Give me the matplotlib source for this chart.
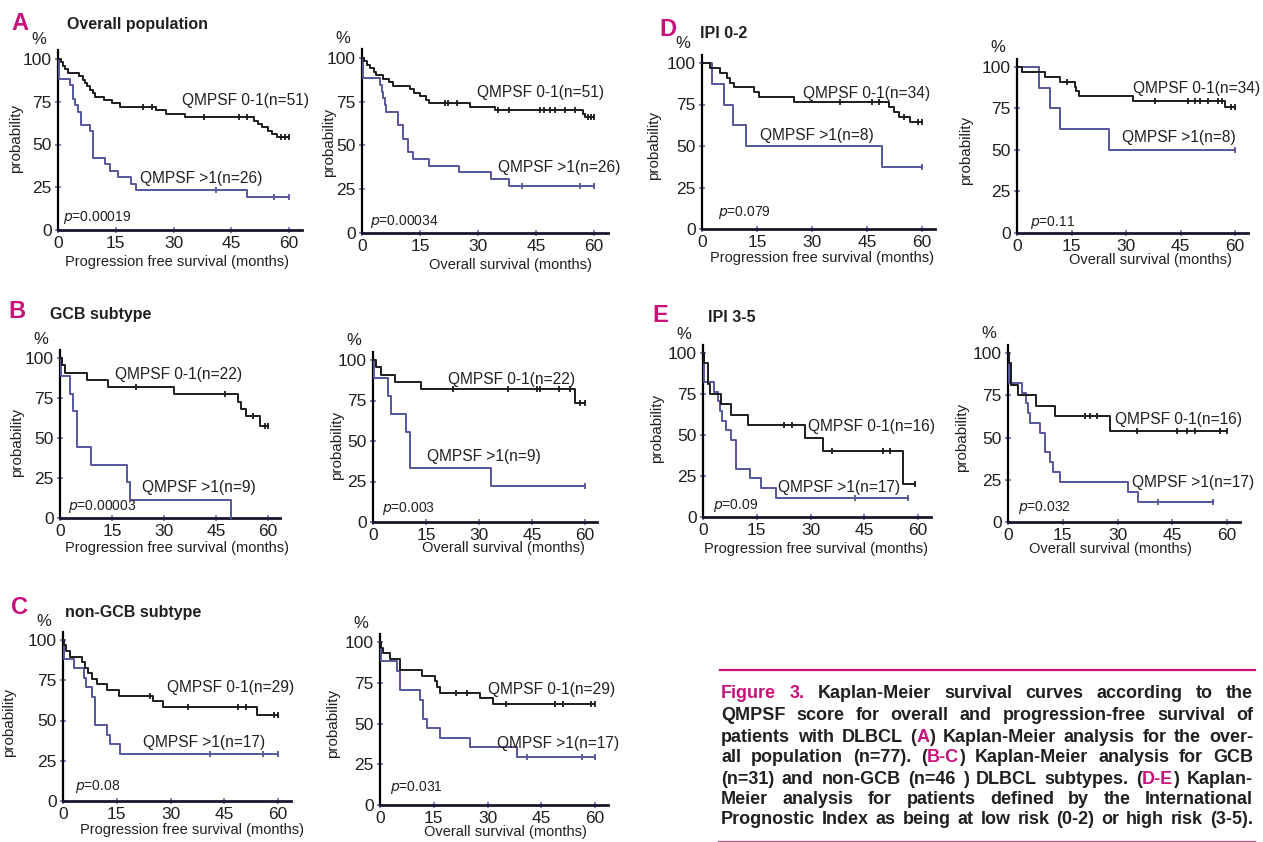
import re
import matplotlib
matplotlib.use('Agg')
import matplotlib.pyplot as plt
import numpy as np

plt.rcParams['font.family'] = ['Liberation Sans', 'DejaVu Sans']

# ---------------- data: event times (months), survival (%) after each event, censor times
# A  overall population
a_pfs_lo_t = [0.8, 1.3, 1.8, 2.5, 5.5, 6.5, 7.0, 7.5, 8.2, 9.0, 9.5, 12, 14, 16, 25.5, 28, 33, 51, 52, 53, 54.5, 55.5, 57]
a_pfs_lo_s = [98, 96, 94, 92, 90, 88, 86, 84, 82, 80, 78, 76, 74, 72, 70, 68, 66, 64, 62, 60, 58, 56, 54.5]
a_pfs_lo_c = [22, 24.5, 38, 47, 49, 58, 59, 60]
a_pfs_hi_t = [0.3, 3.0, 3.9, 4.5, 5.2, 6.1, 8.2, 9.1, 12.1, 13.4, 15.6, 19, 20.3, 49]
a_pfs_hi_s = [88.5, 84.6, 76.9, 73.1, 69.2, 61.5, 57.7, 42.3, 38.5, 34.6, 30.8, 26.9, 23.1, 19.2]
a_pfs_hi_c = [41, 56, 60]
a_os_lo_t = [0.5, 1.2, 2, 3, 3.5, 5.5, 7, 8, 12.5, 13.5, 15, 16.5, 17.2, 28, 34.5, 57.2, 57.8]
a_os_lo_s = [98, 96, 94, 92, 90, 88, 86, 84, 82, 80, 78, 76, 74, 72, 70, 68, 66.5]
a_os_lo_c = [21.5, 22.3, 24.5, 35.2, 38, 46, 47, 48.5, 50, 52.5, 55, 58.5, 59.3, 60]
a_os_hi_t = [0.3, 4.7, 5.1, 5.5, 5.9, 6.2, 9.4, 10.7, 12, 13.3, 17.2, 25, 33.3, 38]
a_os_hi_s = [88.5, 84.6, 80.8, 76.9, 73.1, 69.2, 61.5, 53.8, 46.2, 42.3, 38.5, 34.6, 30.8, 26.9]
a_os_hi_c = [41.3, 56.4, 60]

# B  GCB subtype
b_pfs_lo_t = [0.5, 1.4, 7.9, 13.9, 33, 51.3, 52.2, 53.7, 57.6]
b_pfs_lo_s = [95.5, 90.9, 86.4, 81.8, 77.3, 72.7, 68.2, 63.6, 57.3]
b_pfs_lo_c = [22, 47.5, 55.8, 59, 60]
b_pfs_hi_t = [0.3, 3.0, 3.8, 5.0, 8.8, 19.2, 20.2, 49.4]
b_pfs_hi_s = [88.9, 77.8, 66.7, 44.4, 33.3, 22.2, 11.1, 0]
b_pfs_hi_c = []
b_os_lo_t = [0.9, 2.4, 6.1, 13.7, 57.2]
b_os_lo_s = [95.5, 90.9, 86.4, 81.8, 73.6]
b_os_lo_c = [22.7, 38.3, 46.3, 47.3, 52.5, 55.8, 58.6, 60]
b_os_hi_t = [0.3, 4.3, 5.2, 9.3, 10.4, 33.3]
b_os_hi_s = [88.9, 77.8, 66.7, 55.6, 33.3, 22.2]
b_os_hi_c = [60]

# C  non-GCB subtype
c_pfs_lo_t = [0.4, 0.9, 2.0, 5.3, 6.2, 7.1, 8.1, 9.5, 12.2, 15.5, 25.2, 28, 54]
c_pfs_lo_s = [96.6, 93.1, 89.7, 86.2, 82.8, 79.3, 75.9, 72.4, 69.0, 65.5, 62.1, 58.6, 53.7]
c_pfs_lo_c = [24.3, 35, 48.9, 51.2, 59, 60]
c_pfs_hi_t = [0.2, 3.0, 5.8, 6.5, 8.1, 9.0, 12.2, 13.2, 16.0]
c_pfs_hi_s = [88.2, 82.4, 76.5, 70.6, 64.7, 47.1, 41.2, 35.3, 29.4]
c_pfs_hi_c = [41, 55.9, 60]
c_os_lo_t = [0.3, 0.9, 2.8, 5.6, 11.6, 15.3, 15.9, 16.7, 27.9, 31.6]
c_os_lo_s = [96.6, 93.1, 89.7, 82.8, 79.3, 75.9, 72.4, 69.0, 65.5, 62.1]
c_os_lo_c = [21.2, 24.2, 35.2, 48.8, 51.2, 59, 60]
c_os_hi_t = [0.2, 4.7, 5.6, 11.2, 12.1, 13.0, 16.7, 25.1, 38.1]
c_os_hi_s = [88.2, 82.4, 70.6, 64.7, 52.9, 47.1, 41.2, 35.3, 29.4]
c_os_hi_c = [41.1, 56.3, 60]

# D  IPI 0-2
d_pfs_lo_t = [2.3, 5.0, 6.8, 7.7, 8.6, 14.1, 15.5, 25.0, 50.9, 52.3, 53.6, 56.8]
d_pfs_lo_s = [97.1, 94.1, 91.2, 88.2, 85.3, 82.4, 79.4, 76.5, 73.5, 70.6, 67.6, 64.7]
d_pfs_lo_c = [37.7, 46.4, 48.2, 55, 59, 60]
d_pfs_hi_t = [2.7, 5.9, 8.5, 12.1, 49.1]
d_pfs_hi_s = [87.5, 75, 62.5, 50, 37.5]
d_pfs_hi_c = [60]
d_os_lo_t = [1.4, 7.8, 11.9, 16.0, 16.3, 17.0, 31.9, 57.2]
d_os_lo_s = [97.1, 94.1, 91.2, 88.2, 85.3, 82.4, 79.4, 76.0]
d_os_lo_c = [13.7, 38, 47.2, 49, 50.5, 52.7, 55.4, 56.3, 59, 60]
d_os_hi_t = [6.0, 9.0, 11.9, 25.2]
d_os_hi_s = [87.5, 75, 62.5, 50]
d_os_hi_c = [60]

# E  IPI 3-5
e_pfs_lo_t = [0.3, 1.4, 2.0, 5.1, 7.9, 12.6, 28.4, 33.5, 55.8]
e_pfs_lo_s = [93.8, 81.3, 75.0, 68.8, 62.5, 56.3, 48.2, 40.2, 20.1]
e_pfs_lo_c = [22.5, 24.7, 36, 50.2, 52.3, 59.3]
e_pfs_hi_t = [0.2, 3.0, 4.2, 4.8, 5.4, 6.3, 7.9, 9.1, 13.0, 16.3, 20.5]
e_pfs_hi_s = [82.4, 76.5, 70.6, 64.7, 58.8, 52.9, 47.1, 29.4, 23.5, 17.6, 11.8]
e_pfs_hi_c = [42.3, 57.2]
e_os_lo_t = [0.3, 0.9, 2.7, 7.8, 12.8, 27.9]
e_os_lo_s = [93.8, 81.3, 75.0, 68.8, 62.5, 53.6]
e_os_lo_c = [21, 22.4, 24.3, 35.3, 46.3, 49, 51.3, 58.2, 60]
e_os_hi_t = [0.3, 3.9, 5.0, 5.5, 6.0, 8.7, 10.1, 11.4, 12.4, 14.2, 33.0, 35.7]
e_os_hi_s = [82.4, 76.5, 70.6, 64.7, 58.8, 52.9, 41.2, 35.3, 29.4, 23.5, 17.6, 11.8]
e_os_hi_c = [41, 56.3]

n_lo = [51, 51, 22, 22, 29, 29, 34, 34, 16, 16]
n_hi = [26, 26, 9, 9, 17, 17, 8, 8, 17, 17]
p_values = ['0.00019', '0.00034', '0.00003', '0.003', '0.08', '0.031', '0.079', '0.11', '0.09', '0.032']
x_titles = ['Progression free survival (months)', 'Overall survival (months)'] * 5
panel_letters = ['A', 'B', 'C', 'D', 'E']
panel_titles = ['Overall population', 'GCB subtype', 'non-GCB subtype', 'IPI 0-2', 'IPI 3-5']
x_ticks = [0, 15, 30, 45, 60]
y_ticks = [0, 25, 50, 75, 100]

curves = [
    ((a_pfs_lo_t, a_pfs_lo_s, a_pfs_lo_c), (a_pfs_hi_t, a_pfs_hi_s, a_pfs_hi_c)),
    ((a_os_lo_t, a_os_lo_s, a_os_lo_c), (a_os_hi_t, a_os_hi_s, a_os_hi_c)),
    ((b_pfs_lo_t, b_pfs_lo_s, b_pfs_lo_c), (b_pfs_hi_t, b_pfs_hi_s, b_pfs_hi_c)),
    ((b_os_lo_t, b_os_lo_s, b_os_lo_c), (b_os_hi_t, b_os_hi_s, b_os_hi_c)),
    ((c_pfs_lo_t, c_pfs_lo_s, c_pfs_lo_c), (c_pfs_hi_t, c_pfs_hi_s, c_pfs_hi_c)),
    ((c_os_lo_t, c_os_lo_s, c_os_lo_c), (c_os_hi_t, c_os_hi_s, c_os_hi_c)),
    ((d_pfs_lo_t, d_pfs_lo_s, d_pfs_lo_c), (d_pfs_hi_t, d_pfs_hi_s, d_pfs_hi_c)),
    ((d_os_lo_t, d_os_lo_s, d_os_lo_c), (d_os_hi_t, d_os_hi_s, d_os_hi_c)),
    ((e_pfs_lo_t, e_pfs_lo_s, e_pfs_lo_c), (e_pfs_hi_t, e_pfs_hi_s, e_pfs_hi_c)),
    ((e_os_lo_t, e_os_lo_s, e_os_lo_c), (e_os_hi_t, e_os_hi_s, e_os_hi_c)),
]

caption = [
    '{Figure} {3.} Kaplan-Meier survival curves according to the',
    'QMPSF score for overall and progression-free survival of',
    'patients with DLBCL ({A}) Kaplan-Meier analysis for the over-',
    'all population (n=77). ({B-C}) Kaplan-Meier analysis for GCB',
    '(n=31) and non-GCB (n=46 ) DLBCL subtypes. ({D-E}) Kaplan-',
    'Meier analysis for patients defined by the International',
    'Prognostic Index as being at low risk (0-2) or high risk (3-5).',
]

# ---------------- layout (pixels in the 1263x842 figure)
W, H = 1263, 842
# x of t=0, x of t=60, y of 0 %, y of 100 %
ax_px = [(58, 289, 230, 59), (362, 594, 233, 58), (60, 268, 518, 358), (373, 585, 522, 360),
         (63, 278, 801, 640), (380, 595, 805, 642), (702, 922, 229, 63), (1017, 1235, 233, 67),
         (703, 918, 517, 353), (1008, 1227, 522, 353)]
lab_lo = [(32.2, 76), (29.7, 80), (15.9, 89.4), (21.2, 87.7), (29, 70.8), (30.2, 70.6),
          (27.5, 81.9), (32.0, 87.3), (29.3, 54.9), (29.3, 60.4)]
lab_hi = [(21.3, 30.4), (35.2, 37.7), (23.6, 18.8), (15.3, 40.7), (22.3, 36.6), (32.7, 38),
          (15.8, 56.6), (28.9, 57.8), (21, 17.7), (34, 23.1)]
p_pos = [(1.3, 7.6), (2.1, 6.3), (2.3, 6.9), (2.5, 8.6), (3.4, 8.7), (2.8, 11),
         (4.4, 10.2), (3.6, 6.6), (2.8, 7.3), (2.7, 8.3)]
xlab_pos = [(30.9, 32), (38.5, 32), (33.7, 30), (36.8, 26), (36, 29), (35, 27),
            (32.7, 29), (36.6, 27), (31.6, 32), (28.2, 27)]
ylab_pos = [(42, 53.8), (33, 52), (43, 47.5), (36, 47.5), (54, 49), (47, 50),
            (48, 50.6), (51, 50), (46, 54), (46, 50)]
letter_px = [(20, 23), (17, 312), (19, 608), (668, 30), (660, 315)]
title_px = [(67, 24), (50, 315), (65, 613), (700, 33), (708, 318)]

BLACK = '#1c1c1c'
BLUE = '#56569c'
MAGENTA = '#c8117a'
TXT = '#231f20'
XMAX, YMAX = 63.5, 105

fig = plt.figure(figsize=(W / 100, H / 100), dpi=100)


def draw_km(ax, t, s, c, color):
    end = max([t[-1]] + list(c))
    x = [0] + list(t) + [end]
    y = [100] + list(s) + [s[-1]]
    ax.step(x, y, where='post', color=color, lw=1.4, clip_on=False, zorder=3)
    if c:
        idx = np.searchsorted(t, c, side='right')
        cy = [100 if i == 0 else s[i - 1] for i in idx]
        ax.plot(c, cy, ls='none', marker='|', ms=5, mew=1.3, color=color, clip_on=False, zorder=4)


for i, ((lo, hi), (x0, x60, y0, y100)) in enumerate(zip(curves, ax_px)):
    pxm = (x60 - x0) / 60
    pxp = (y0 - y100) / 100
    ax = fig.add_axes([x0 / W, 1 - y0 / H, pxm * XMAX / W, pxp * YMAX / H])
    ax.set_xlim(0, XMAX)
    ax.set_ylim(0, YMAX)
    ax.patch.set_alpha(0)
    for sp in ['top', 'right']:
        ax.spines[sp].set_visible(False)
    ax.spines['left'].set_color('black')
    ax.spines['left'].set_linewidth(1.6)
    ax.spines['bottom'].set_color('#17172e')
    ax.spines['bottom'].set_linewidth(2)
    ax.set_xticks(x_ticks)
    ax.set_yticks(y_ticks)
    ax.tick_params(direction='inout', length=5, width=1.2, color='#7070b8',
                   labelsize=12.5, pad=2, labelcolor=TXT)

    draw_km(ax, *hi, BLUE)
    draw_km(ax, *lo, BLACK)

    ax.text(*lab_lo[i], f'QMPSF 0-1(n={n_lo[i]})', fontsize=11.2, color=TXT, ha='left', va='center')
    ax.text(*lab_hi[i], f'QMPSF >1(n={n_hi[i]})', fontsize=11.2, color=TXT, ha='left', va='center')
    ax.text(*p_pos[i], f'$\\it{{p}}$=' + p_values[i], fontsize=10, color=TXT, ha='left', va='center')

    ax.annotate('%', xy=(0, 100), xytext=(-19, 19), textcoords='offset pixels',
                ha='center', va='center', fontsize=12, color=TXT)
    ax.annotate(x_titles[i], xy=(xlab_pos[i][0], 0), xytext=(0, -xlab_pos[i][1]),
                textcoords='offset pixels', ha='center', va='center', fontsize=10.5, color=TXT)
    ax.annotate('probability', xy=(0, ylab_pos[i][1]), xytext=(-ylab_pos[i][0], 0),
                textcoords='offset pixels', ha='center', va='center', rotation=90,
                fontsize=11, color=TXT)

for letter, title, (lx, ly), (tx, ty) in zip(panel_letters, panel_titles, letter_px, title_px):
    fig.text(lx / W, 1 - ly / H, letter, color=MAGENTA, fontsize=17, fontweight='bold',
             ha='center', va='center')
    fig.text(tx / W, 1 - ty / H, title, color=TXT, fontsize=11.5, fontweight='bold',
             ha='left', va='center')

# caption with rules
fig.add_artist(plt.Line2D([720 / W, 1255 / W], [1 - 670 / H] * 2, color=MAGENTA, lw=1.6))
fig.add_artist(plt.Line2D([718 / W, 1255 / W], [1 - 841 / H] * 2, color='#b0508e', lw=0.9))

renderer = fig.canvas.get_renderer()
cap_y = [693, 715, 737, 758, 779, 800, 820]
cx0, cx1 = 721, 1253
for line, y in zip(caption, cap_y):
    words = []
    for w in line.split(' '):
        arts, widths = [], []
        for part in re.split(r'(\{[^}]*\})', w):
            if not part:
                continue
            col = MAGENTA if part.startswith('{') else TXT
            txt = part.strip('{}')
            a = fig.text(0, 0, txt, color=col, fontsize=13, fontweight='bold',
                         va='center', ha='left')
            arts.append(a)
            widths.append(a.get_window_extent(renderer).width)
        words.append((arts, widths))
    total = sum(sum(ws) for _, ws in words)
    gap = (cx1 - cx0 - total) / (len(words) - 1)
    x = cx0
    for arts, widths in words:
        for a, wd in zip(arts, widths):
            a.set_position((x / W, 1 - y / H))
            x += wd
        x += gap

fig.savefig('out.png', dpi=100)
